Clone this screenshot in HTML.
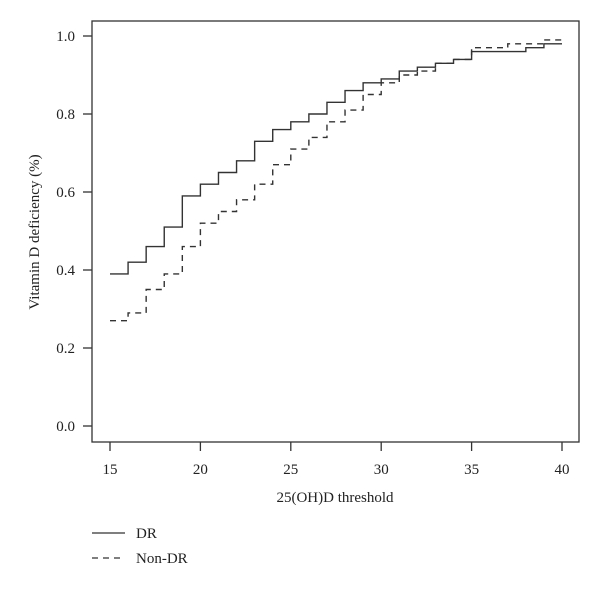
<!DOCTYPE html>
<html><head><meta charset="utf-8"><style>
body{margin:0;background:#fff;}
svg text{font-family:"Liberation Serif",serif;fill:#222;}
</style></head><body>
<svg id="c" width="600" height="591">
<rect x="92" y="21" width="487" height="421" fill="none" stroke="#333" stroke-width="1.3"/>
<g id="axes"></g>
<g id="series"></g>
<text x="335" y="502" font-size="15" text-anchor="middle">25(OH)D threshold</text>
<text transform="translate(39,232) rotate(-90)" font-size="15" text-anchor="middle">Vitamin D deficiency (%)</text>
<g>
<line x1="92" y1="533" x2="125" y2="533" stroke="#333" stroke-width="1.3"/>
<text x="136" y="538" font-size="15">DR</text></g>
<g>
<line x1="92" y1="558" x2="125" y2="558" stroke="#333" stroke-width="1.3" stroke-dasharray="6,5"/>
<text x="136" y="563" font-size="15">Non-DR</text></g>
</svg>
<script>
const thresholds=[15,16,17,18,19,20,21,22,23,24,25,26,27,28,29,30,31,32,33,34,35,36,37,38,39];
const drValues=[0.39,0.42,0.46,0.51,0.59,0.62,0.65,0.68,0.73,0.76,0.78,0.80,0.83,0.86,0.88,0.89,0.91,0.92,0.93,0.94,0.96,0.96,0.96,0.97,0.98];
const nonDrValues=[0.27,0.29,0.35,0.39,0.46,0.52,0.55,0.58,0.62,0.67,0.71,0.74,0.78,0.81,0.85,0.88,0.90,0.91,0.93,0.94,0.97,0.97,0.98,0.98,0.99];
const xTicks=[15,20,25,30,35,40];
const yTicks=[0.0,0.2,0.4,0.6,0.8,1.0];
const NS="http://www.w3.org/2000/svg";
const sx=v=>110+(v-15)*(562-110)/25;
const sy=v=>426-v*390;
const axes=document.getElementById('axes');
xTicks.forEach(t=>{
 const l=document.createElementNS(NS,'line');
 l.setAttribute('x1',sx(t));l.setAttribute('x2',sx(t));l.setAttribute('y1',442);l.setAttribute('y2',451);
 l.setAttribute('stroke','#333');l.setAttribute('stroke-width','1.3');
 
 
 axes.appendChild(l);
 const tx=document.createElementNS(NS,'text');
 tx.setAttribute('x',sx(t));tx.setAttribute('y',474);tx.setAttribute('font-size','15');tx.setAttribute('text-anchor','middle');
 tx.textContent=t;
 
 
 axes.appendChild(tx);
});
yTicks.forEach(t=>{
 const l=document.createElementNS(NS,'line');
 l.setAttribute('x1',83);l.setAttribute('x2',92);l.setAttribute('y1',sy(t));l.setAttribute('y2',sy(t));
 l.setAttribute('stroke','#333');l.setAttribute('stroke-width','1.3');
 
 
 axes.appendChild(l);
 const tx=document.createElementNS(NS,'text');
 tx.setAttribute('x',75);tx.setAttribute('y',sy(t)+5);tx.setAttribute('font-size','15');tx.setAttribute('text-anchor','end');
 tx.textContent=t.toFixed(1);
 
 
 axes.appendChild(tx);
});
function stepPath(vals){
 let d='';
 thresholds.forEach((t,i)=>{
  d+=(i===0?'M':'L')+sx(t)+','+sy(vals[i])+' L'+sx(t+1)+','+sy(vals[i])+' ';
 });
 return d;
}
const g=document.getElementById('series');
const p1=document.createElementNS(NS,'path');
p1.setAttribute('d',stepPath(drValues));p1.setAttribute('fill','none');p1.setAttribute('stroke','#333');p1.setAttribute('stroke-width','1.4');


g.appendChild(p1);
const p2=document.createElementNS(NS,'path');
p2.setAttribute('d',stepPath(nonDrValues));p2.setAttribute('fill','none');p2.setAttribute('stroke','#333');p2.setAttribute('stroke-width','1.4');p2.setAttribute('stroke-dasharray','6,5');


g.appendChild(p2);
</script>
</body></html>
